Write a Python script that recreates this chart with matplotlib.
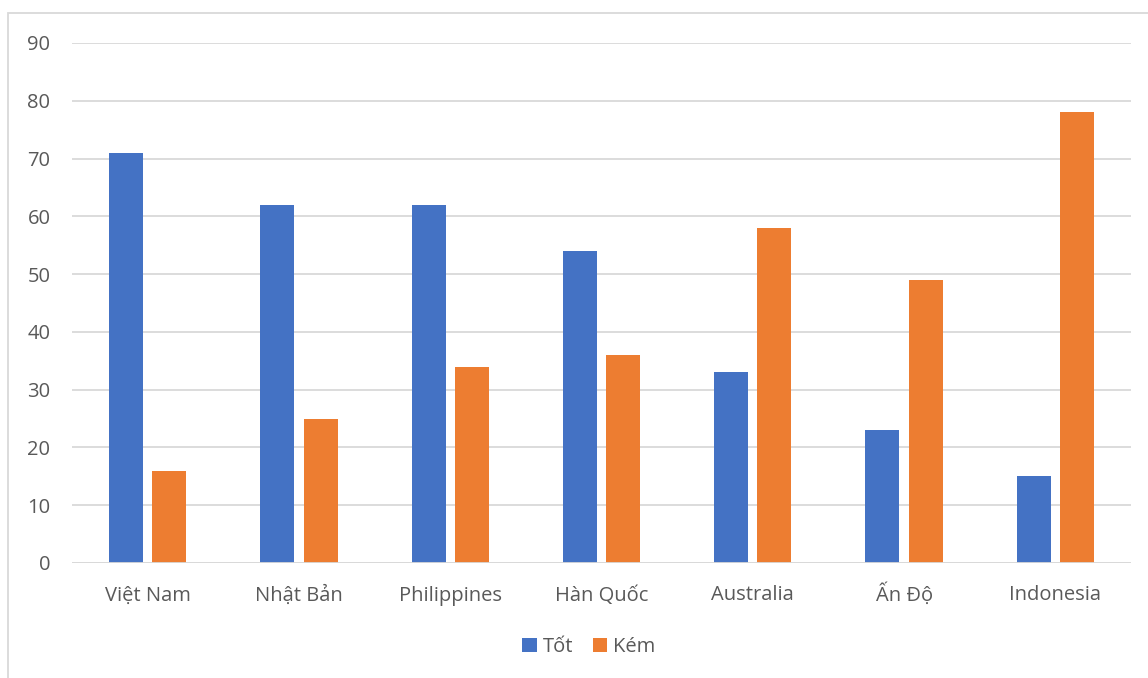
import matplotlib.pyplot as plt
import matplotlib.patches as mpatches
import numpy as np

countries = ["Việt Nam", "Nhật Bản", "Philippines", "Hàn Quốc", "Australia", "Ấn Độ", "Indonesia"]
tot = [71, 62, 62, 54, 33, 23, 15]
kem = [16, 25, 34, 36, 58, 49, 78]

blue = "#4472C4"
orange = "#ED7D31"
text_col = "#595959"
grid_col = "#D9D9D9"

plt.rcParams["font.family"] = ["Open Sans", "DejaVu Sans"]

W, H = 1148, 678
fig = plt.figure(figsize=(W / 100, H / 100), dpi=100)

# outer chart frame
fig.patches.append(mpatches.Rectangle((8 / W, -0.05), 1.2, 1 - 13 / H + 0.05,
                                      transform=fig.transFigure, fill=False,
                                      edgecolor=grid_col, linewidth=1.3))

ax = fig.add_axes([72 / W, 1 - 563 / H, (1131 - 72) / W, (563 - 43) / H])

x = np.arange(len(countries))
width = 0.225
off = 0.143
ax.bar(x - off, tot, width, color=blue, label="Tốt", zorder=3)
ax.bar(x + off, kem, width, color=orange, label="Kém", zorder=3)

ax.set_xlim(-0.5, len(countries) - 0.5)
ax.set_ylim(0, 90)
ax.set_yticks(range(0, 91, 10))
ax.yaxis.grid(True, color=grid_col, linewidth=1.3, zorder=0)
for s in ax.spines.values():
    s.set_visible(False)
ax.axhline(0, color=grid_col, linewidth=1.3, zorder=4)
ax.tick_params(length=0, labelsize=14.5, labelcolor=text_col)
ax.tick_params(axis="y", pad=15.5)
ax.tick_params(axis="x", pad=27)
ax.set_xticks(x)
ax.set_xticklabels(countries)
for lbl in ax.get_xticklabels():
    lbl.set_va("baseline")

fig.legend(loc="center", bbox_to_anchor=(589 / W, 1 - 647 / H), ncol=2,
           frameon=False, fontsize=14.5, labelcolor=text_col,
           handlelength=0.7, handleheight=0.7, handletextpad=0.3, columnspacing=1.0)

fig.savefig("out.png", dpi=100, facecolor="white")
